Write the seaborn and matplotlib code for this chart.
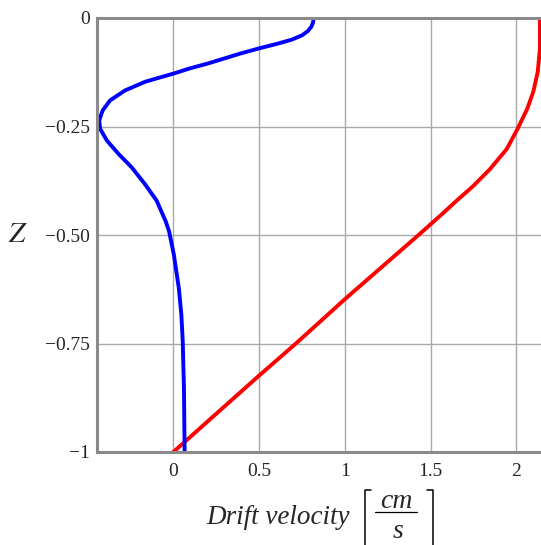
"""Drift velocity profiles over depth Z (blue and red curves)"""
import matplotlib
matplotlib.use("Agg")
import matplotlib.pyplot as plt
from matplotlib.lines import Line2D
import pandas as pd
import seaborn as sns

# values
blue_z = [0, -0.01, -0.02, -0.03, -0.04, -0.05, -0.06, -0.07, -0.082, -0.105,
          -0.116, -0.127, -0.147, -0.167, -0.19, -0.213, -0.236, -0.255, -0.282,
          -0.313, -0.344, -0.383, -0.421, -0.468, -0.491, -0.52, -0.545, -0.585,
          -0.622, -0.684, -0.746, -0.853, -1.0]
blue_u = [0.818, 0.815, 0.805, 0.785, 0.75, 0.69, 0.6, 0.5, 0.39, 0.2,
          0.097, 0.01, -0.165, -0.282, -0.369, -0.412, -0.432, -0.427, -0.388,
          -0.32, -0.243, -0.165, -0.097, -0.045, -0.025, -0.01, 0.003, 0.018,
          0.032, 0.047, 0.055, 0.062, 0.066]

red_z = [0, -0.07, -0.124, -0.17, -0.209, -0.255, -0.302, -0.348, -0.387,
         -0.421, -0.456, -0.5, -0.648, -0.75, -0.824, -0.912, -1.0]
red_u = [2.138, 2.138, 2.125, 2.099, 2.064, 2.008, 1.944, 1.847, 1.749,
         1.652, 1.555, 1.43, 1.0, 0.715, 0.5, 0.25, 0.0]

x_ticks = [0, 0.5, 1, 1.5, 2]
x_labels = ["0", "0.5", "1", "1.5", "2"]
y_ticks = [-1, -0.75, -0.5, -0.25, 0]
y_labels = ["\u22121", "\u22120.75", "\u22120.50", "\u22120.25", "0"]

W, H = 541, 545


def fx(px):
    return px / W


def fy(py):
    return 1 - py / H


sns.set_style("whitegrid", {"grid.color": "#a9a9a9", "axes.edgecolor": "#8a8a8a"})
plt.rcParams["font.family"] = ["Liberation Serif", "DejaVu Serif"]
plt.rcParams["mathtext.fontset"] = "stix"

blue = pd.DataFrame({"u": blue_u, "z": blue_z})
red = pd.DataFrame({"u": red_u, "z": red_z})

fig = plt.figure(figsize=(W / 100, H / 100), dpi=100)
ax = fig.add_axes([fx(97), fy(452), (W - 97) / W, 434 / H])

sns.lineplot(data=red, x="u", y="z", sort=False, estimator=None,
             color="#ff0000", lw=2.8, solid_capstyle="round", ax=ax)
sns.lineplot(data=blue, x="u", y="z", sort=False, estimator=None,
             color="#0000ff", lw=2.8, solid_capstyle="round", ax=ax)

ax.set_xlim(-0.445, 2.144)
ax.set_ylim(-1, 0)
ax.set_xticks(x_ticks, x_labels)
ax.set_yticks(y_ticks, y_labels)
ax.grid(True, lw=1.0)
ax.tick_params(labelsize=14, length=3, direction="in", color="#8a8a8a")
ax.tick_params(axis="x", pad=8)
ax.tick_params(axis="y", pad=5)

for side in ["left", "top", "bottom"]:
    ax.spines[side].set_linewidth(2.2)
ax.spines["right"].set_visible(False)

ax.set_xlabel("")
ax.set_ylabel("$Z$", fontsize=21, rotation=0, ha="center", va="center")
ax.yaxis.set_label_coords(-0.178, 0.5)

# x axis label: Drift velocity [cm / s]
fig.text(fx(206), fy(524), "Drift velocity", fontsize=19.5, style="italic",
         ha="left", va="baseline")
fig.text(fx(396), fy(508), "cm", fontsize=20, style="italic",
         ha="center", va="baseline")
fig.text(fx(398), fy(537.5), "s", fontsize=20, style="italic",
         ha="center", va="baseline")
fig.add_artist(Line2D([fx(375), fx(417)], [fy(512), fy(512)],
                      color="black", lw=0.9))
fig.add_artist(Line2D([fx(370.5), fx(365), fx(365)], [fy(490), fy(490), fy(560)],
                      color="black", lw=1.1))
fig.add_artist(Line2D([fx(427), fx(432.5), fx(432.5)], [fy(490), fy(490), fy(560)],
                      color="black", lw=1.1))

fig.savefig("out.png", dpi=100)
